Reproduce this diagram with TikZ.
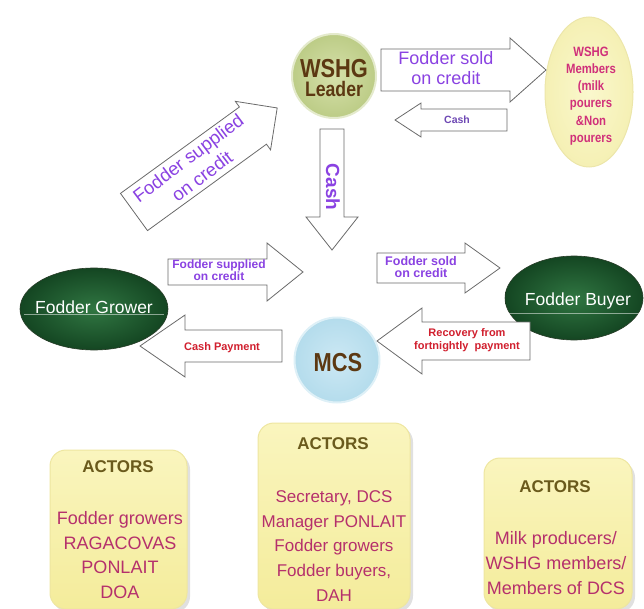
\documentclass[tikz,border=0pt]{standalone}
\usepackage{fontspec}
\setmainfont{Liberation Sans}
\newfontfamily\narrowfont[FakeStretch=0.84]{Liberation Sans}
\usetikzlibrary{shapes.geometric}
\definecolor{txtviolet}{HTML}{8A42E2}
\definecolor{txtviolettwo}{HTML}{6E48B4}
\definecolor{txtred}{HTML}{D11F2E}
\definecolor{txtmember}{HTML}{D0307A}
\definecolor{txtbox}{HTML}{B5306C}
\definecolor{txtactors}{HTML}{6A5A1C}
\definecolor{txtbrown}{HTML}{5C3812}
\definecolor{arrowline}{HTML}{6A6A6A}
\newcommand{\fs}[2]{\fontsize{#1}{#2}\selectfont}
\newcommand{\blockarrow}[7]{%
  \begin{scope}[shift={(#1,#2)},rotate=#3]
    \draw[barrow] (0,-#5) -- ({#4-#7},-#5) -- ({#4-#7},-#6) -- (#4,0) -- ({#4-#7},#6) -- ({#4-#7},#5) -- (0,#5) -- cycle;
  \end{scope}}
\tikzset{
  barrow/.style={draw=arrowline, line width=0.8pt, fill=white, line join=miter},
  greenell/.style={ellipse, shading=radial, inner color={rgb,255:red,48;green,118;blue,66}, outer color={rgb,255:red,20;green,70;blue,34}, draw={rgb,255:red,40;green,60;blue,40}, line width=0.6pt, inner sep=0pt},
  actorbox/.style={rectangle, rounded corners=16pt, top color={rgb,255:red,250;green,245;blue,190}, bottom color={rgb,255:red,244;green,236;blue,155}, draw={rgb,255:red,238;green,230;blue,160}, line width=1pt, inner sep=0pt},
  boxshadow/.style={rectangle, rounded corners=16pt, fill=black, opacity=0.12, inner sep=0pt},
  lbl/.style={inner sep=0pt, align=center}
}
\begin{document}
\begin{tikzpicture}[x=1pt,y=-1pt]
\useasboundingbox (0,0) rectangle (644,609);

% ---- main actors (shapes) ----
\node[circle, minimum size=84pt, inner sep=0pt, shading=radial,
  inner color={rgb,255:red,214;green,224;blue,170}, outer color={rgb,255:red,188;green,204;blue,134},
  draw={rgb,255:red,228;green,234;blue,204}, line width=2pt] (leader) at (334,76) {};
\node[ellipse, minimum width=88pt, minimum height=150pt, inner sep=0pt, shading=radial,
  inner color={rgb,255:red,250;green,248;blue,205}, outer color={rgb,255:red,245;green,240;blue,180},
  draw={rgb,255:red,236;green,230;blue,170}, line width=1pt] (members) at (589,92) {};
\node[circle, minimum size=85pt, inner sep=0pt, shading=radial,
  inner color={rgb,255:red,204;green,232;blue,244}, outer color={rgb,255:red,180;green,220;blue,236},
  draw={rgb,255:red,222;green,240;blue,247}, line width=2pt] (mcs) at (337,360) {};
\node[greenell, minimum width=148pt, minimum height=82pt] (grower) at (94,309) {};
\node[greenell, minimum width=138pt, minimum height=84pt] (buyer) at (574,298) {};
\draw[white, opacity=0.5, line width=0.5pt] (grower.west) ++(4,5) -- ++(140,0);
\draw[white, opacity=0.5, line width=0.5pt] (buyer.west) ++(4,15) -- ++(130,0);

% ---- block arrows ----
\blockarrow{381}{70}{0}{165}{21}{32}{36}
\blockarrow{507}{120}{180}{112}{11}{17}{26}
\blockarrow{332}{129}{-90}{121}{12}{26}{33}
\blockarrow{134}{212}{36}{177}{23}{30}{30}
\blockarrow{168}{272}{0}{135}{13}{29}{36}
\blockarrow{282}{346}{180}{142}{16}{31}{45}
\blockarrow{377}{268}{0}{123}{15}{25}{35}
\blockarrow{530}{341}{180}{153}{19}{33}{45}

% ---- texts in shapes ----
\node[lbl, text=txtbrown] (leadertxt) at (334,78) {{\narrowfont\bfseries\fs{26}{26}WSHG}\\[3pt]{\narrowfont\bfseries\fs{21}{21}Leader}};
\node[lbl, text=txtmember, font=\narrowfont\bfseries\fs{13.5}{17.2}] (memberstxt) at (591,96) {WSHG\\Members\\(milk\\pourers\\\&Non\\pourers};
\node[lbl, text=txtbrown, font=\narrowfont\bfseries\fs{26}{26}] (mcstxt) at (338,363) {MCS};
\node[lbl, text=white, font=\fs{17.5}{20}] (growertxt) at (94,307) {Fodder Grower};
\node[lbl, text=white, font=\fs{17.5}{20}] (buyertxt) at (578,301) {Fodder Buyer};

% ---- arrow labels ----
\node[lbl, text=txtviolet, font=\fs{18}{20}] (t1) at (446,68) {Fodder sold\\on credit};
\node[lbl, text=txtviolettwo, font=\bfseries\fs{10.5}{12}] (t2) at (457,120) {Cash};
\node[lbl, text=txtviolet, font=\bfseries\fs{19}{20}, rotate=-90] (t3) at (333,187) {Cash};
\node[lbl, text=txtviolet, font=\fs{18.5}{23}, rotate=37] (t4) at (195,167) {Fodder supplied\\on credit};
\node[lbl, text=txtviolet, font=\bfseries\fs{12}{12.5}] (t5) at (219,270) {Fodder supplied\\on credit};
\node[lbl, text=txtred, font=\bfseries\fs{11}{12}] (t6) at (222,348) {Cash Payment};
\node[lbl, text=txtviolet, font=\bfseries\fs{12.5}{12.5}] (t7) at (421,267) {Fodder sold\\on credit};
\node[lbl, text=txtred, font=\bfseries\fs{11}{13.5}] (t8) at (467,340) {Recovery from\\fortnightly\ \ payment};

% ---- actor boxes ----
\node[boxshadow, minimum width=137pt, minimum height=159pt] at (121.5,533) {};
\node[boxshadow, minimum width=152pt, minimum height=186pt] at (337,519) {};
\node[boxshadow, minimum width=148pt, minimum height=151pt] at (561,537) {};
\node[actorbox, minimum width=137pt, minimum height=159pt] (box1) at (118.5,529.5) {};
\node[actorbox, minimum width=152pt, minimum height=186pt] (box2) at (334,516) {};
\node[actorbox, minimum width=148pt, minimum height=151pt] (box3) at (558,533.5) {};

\node[lbl, text=txtactors, font=\bfseries\fs{17}{18}] (a1) at (118,467) {ACTORS};
\node[lbl, text=txtbox, font=\fs{18}{24.5}] (b1) at (120,555) {Fodder growers\\RAGACOVAS\\PONLAIT\\DOA};
\node[lbl, text=txtactors, font=\bfseries\fs{17}{18}] (a2) at (333,444) {ACTORS};
\node[lbl, text=txtbox, font=\fs{17}{24.7}] (b2) at (334,546) {Secretary, DCS\\Manager PONLAIT\\Fodder growers\\Fodder buyers,\\DAH};
\node[lbl, text=txtactors, font=\bfseries\fs{17}{18}] (a3) at (555,487) {ACTORS};
\node[lbl, text=txtbox, font=\fs{18}{25}] (b3) at (556,563) {Milk producers/\\WSHG members/\\Members of DCS};
\end{tikzpicture}
\end{document}
